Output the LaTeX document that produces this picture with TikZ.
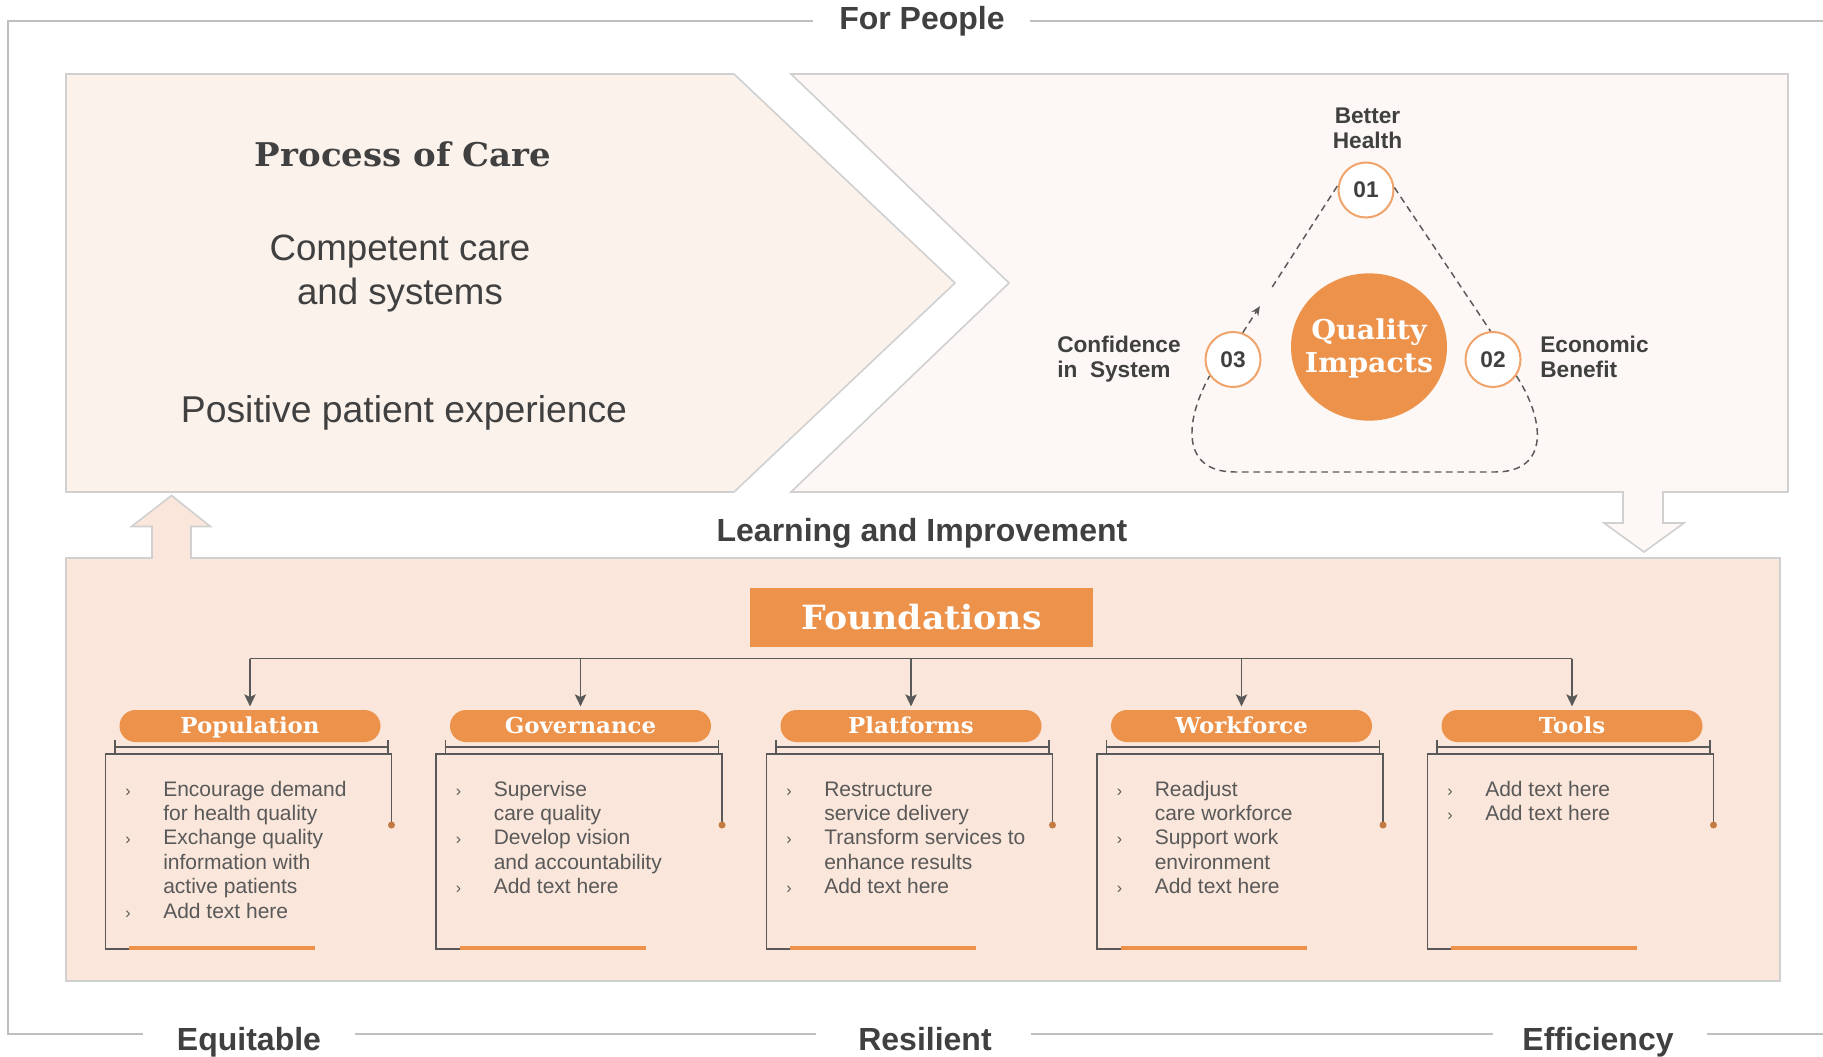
\documentclass[tikz,border=0pt]{standalone}
\usepackage{fontspec}
\setmainfont{Liberation Sans}
\newfontfamily\slab[FakeStretch=1.04]{DejaVu Serif}
\usetikzlibrary{arrows.meta,calc,shapes.geometric}
\definecolor{txtdark}{HTML}{404040}
\definecolor{txtgray}{HTML}{595959}
\definecolor{linegray}{HTML}{595959}
\definecolor{orng}{HTML}{ED924B}
\definecolor{orngline}{HTML}{F0A36A}
\definecolor{lpanel}{HTML}{FBF2EC}
\definecolor{rpanel}{HTML}{FDF8F5}
\definecolor{bpanel}{HTML}{FAE6DA}
\definecolor{framegray}{HTML}{BFBFBF}
\definecolor{panelgray}{HTML}{D0D0D0}
\definecolor{dotc}{HTML}{C47B42}
\newcommand\mylines[2]{\begin{tabular}[t]{@{}#1@{}}#2\end{tabular}}
\newcommand\chev{{\fontsize{12}{12}\selectfont ›}}
\begin{document}
\begin{tikzpicture}[x=0.75pt,y=-0.75pt,
  frame/.style={draw=framegray,line width=1.5pt},
  panel/.style={draw=panelgray,line width=1.2pt,line join=miter},
  hdr/.style={font=\fontsize{24}{28}\selectfont\bfseries,text=txtdark,inner sep=0pt,anchor=base},
  lbl/.style={font=\fontsize{17}{19.2}\selectfont\bfseries,text=txtdark,inner sep=0pt},
  num/.style={circle,draw=orngline,line width=1.5pt,fill=white,minimum size=41.25pt,inner sep=0pt,
    font=\fontsize{17}{17}\selectfont\bfseries,text=txtdark},
  dsh/.style={draw=linegray,line width=1.1pt,dash pattern=on 5pt off 3.5pt},
  pill/.style={rectangle,rounded corners=12pt,fill=orng,minimum width=195.75pt,minimum height=24pt,
    inner sep=0pt,text=white,font=\fontsize{16.5}{16.5}\selectfont\slab\bfseries,text height=12.5pt,text depth=1.5pt},
  boxline/.style={draw=linegray,line width=1.2pt},
  conn/.style={draw=linegray,line width=1.4pt},
  bul/.style={font=\fontsize{15.75}{18.3}\selectfont,text=txtgray,inner sep=0pt,anchor=base west}
]
\useasboundingbox (0,0) rectangle (1823,1056);
\fill[white] (0,0) rectangle (1823,1056);

% outer frame
\draw[frame] (813,21.5) -- (8,21.5) -- (8,1034) -- (143,1034);
\draw[frame] (1030,21.5) -- (1823,21.5);
\draw[frame] (355,1034) -- (816,1034);
\draw[frame] (1031,1034) -- (1493,1034);
\draw[frame] (1707,1034) -- (1823,1034);
\node[hdr] (fp) at (922,30) {For People};
\node[hdr] (eq) at (249,1050) {Equitable};
\node[hdr] (res) at (925,1050) {Resilient};
\node[hdr] (eff) at (1598,1050) {Efficiency};
\node[hdr] (li) at (922,541) {Learning and Improvement};

% top panels
\draw[panel,fill=lpanel] (66,74) -- (734,74) -- (955,283) -- (734,492) -- (66,492) -- cycle;
\draw[panel,fill=rpanel] (791,74) -- (1788,74) -- (1788,492) -- (1663,492) -- (1663,523) -- (1684,523)
  -- (1644,552) -- (1604,523) -- (1623,523) -- (1623,492) -- (791,492) -- (1009,283) -- cycle;
% bottom panel
\draw[panel,fill=bpanel] (66,558) -- (152,558) -- (152,526.5) -- (131.5,526.5) -- (171.5,495.5)
  -- (210.5,526.5) -- (191,526.5) -- (191,558) -- (1780,558) -- (1780,981) -- (66,981) -- cycle;

% left panel text
\node[inner sep=0pt,anchor=base,text=txtdark,font=\fontsize{24.5}{28}\selectfont\slab\bfseries] (poc) at (403,166) {Process of Care};
\node[inner sep=0pt,anchor=base,text=txtdark,font=\fontsize{27.5}{33}\selectfont] (cc) at (400,260) {\mylines{c}{Competent care\\and systems}};
\node[inner sep=0pt,anchor=base,text=txtdark,font=\fontsize{28}{30}\selectfont] (ppe) at (404,422) {Positive patient experience};

% right panel: quality impacts
\node[ellipse,fill=orng,minimum width=117pt,minimum height=110.5pt,inner sep=0pt] (qi) at (1369,347) {};
\node[inner sep=0pt,anchor=base,text=white,font=\fontsize{20.5}{24.75}\selectfont\slab\bfseries] (qit) at (1369,339) {\mylines{c}{Quality\\Impacts}};
\node[num] (c1) at (1366,190) {01};
\node[num] (c2) at (1493,359.5) {02};
\node[num] (c3) at (1233,359.5) {03};
\node[lbl,anchor=base] (bh) at (1367.5,123) {\mylines{c}{Better\\Health}};
\node[lbl,anchor=base west,font=\fontsize{17}{18.75}\selectfont\bfseries] (cs) at (1057,352) {\mylines{l}{Confidence\\in~ System}};
\node[lbl,anchor=base west,font=\fontsize{17}{18.75}\selectfont\bfseries] (eb) at (1540,352) {\mylines{l}{Economic\\Benefit}};

\draw[dsh] (c1.5) -- (c2.95);
\draw[dsh] (c2.-35) .. controls (1545,420) and (1550,472) .. (1495,472) -- (1235,472)
  .. controls (1180,472) and (1185,420) .. (c3.215);
\coordinate (la) at ($(c3.70)!0.18!(c1.170)$);
\coordinate (lb) at ($(c3.70)!0.31!(c1.170)$);
\draw[dsh,-{Stealth[length=7pt,width=6pt]}] (c3.70) -- (la);
\draw[dsh] (lb) -- (c1.170);

% foundations
\node[rectangle,fill=orng,minimum width=257.25pt,minimum height=44.25pt,inner sep=0pt,text=white,
  font=\fontsize{25}{25}\selectfont\slab\bfseries,text height=19.5pt,text depth=1.75pt] (fd) at (921.5,617.5) {Foundations};

\coordinate (hl) at (0,658.5);
\foreach \cx/\nm/\lab in {250/pop/Population,580.5/gov/Governance,911/plat/Platforms,1241.5/work/Workforce,1572/tools/Tools}{
  \node[pill] (\nm) at (\cx,726) {\lab};
  \draw[conn,-{Stealth[length=9pt,width=8.5pt,inset=2pt]},shorten >=2.5pt] (\nm.north |- hl) -- (\nm.north);
  \draw[boxline] ({\cx-135},740) -- ({\cx-135},754);
  \draw[boxline] ({\cx+138},740) -- ({\cx+138},754);
  \draw[boxline] ({\cx-135},747) -- ({\cx+138},747);
  \draw[boxline] ({\cx-121},949) -- ({\cx-144.5},949) -- ({\cx-144.5},754) -- ({\cx+141.5},754) -- ({\cx+141.5},825);
  \fill[dotc] ({\cx+141.5},825) circle (3.5);
  \draw[line width=2.4pt,draw=orng] ({\cx-121},948) -- ({\cx+65},948);
}
\draw[conn] (pop.north |- hl) -- (tools.north |- hl);

% bullet texts
\node[bul] (tpop) at (125,796) {\begin{tabular}[t]{@{}p{28.5pt}@{}l@{}}
\chev & Encourage demand\\ & for health quality\\ \chev & Exchange quality\\ & information with\\ & active patients\\ \chev & Add text here\end{tabular}};
\node[bul] (tgov) at (455.5,796) {\begin{tabular}[t]{@{}p{28.5pt}@{}l@{}}
\chev & Supervise\\ & care quality\\ \chev & Develop vision\\ & and accountability\\ \chev & Add text here\end{tabular}};
\node[bul] (tplat) at (786,796) {\begin{tabular}[t]{@{}p{28.5pt}@{}l@{}}
\chev & Restructure\\ & service delivery\\ \chev & Transform services to\\ & enhance results\\ \chev & Add text here\end{tabular}};
\node[bul] (twork) at (1116.5,796) {\begin{tabular}[t]{@{}p{28.5pt}@{}l@{}}
\chev & Readjust\\ & care workforce\\ \chev & Support work\\ & environment\\ \chev & Add text here\end{tabular}};
\node[bul] (ttools) at (1447,796) {\begin{tabular}[t]{@{}p{28.5pt}@{}l@{}}
\chev & Add text here\\ \chev & Add text here\end{tabular}};
\end{tikzpicture}
\end{document}
